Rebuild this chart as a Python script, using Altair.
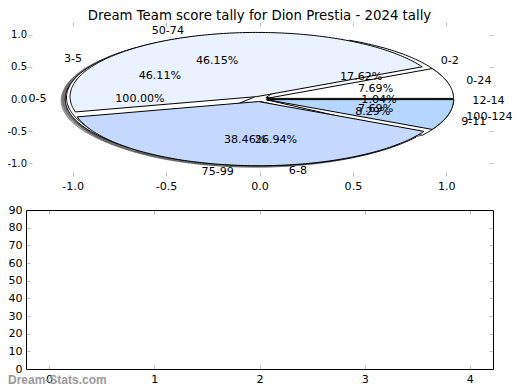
import altair as alt
import numpy as np
import pandas as pd

TITLE = "Dream Team score tally for Dion Prestia - 2024 tally"
WATERMARK = "Dream-Stats.com"

# --- data -----------------------------------------------------------------
pie1_labels = ["0-5"]
pie1_values = [100.00]
pie1_colors = ["#ffffff"]

pie2_labels = ["0-2", "3-5", "6-8", "9-11", "12-14"]
pie2_values = [17.62, 46.11, 26.94, 8.29, 1.04]
pie2_colors = ["#ffffff", "#ffffff", "#ffffff", "#ffffff", "#ffffff"]

pie3_labels = ["0-24", "50-74", "75-99", "100-124"]
pie3_values = [7.69, 46.15, 38.46, 7.69]
pie3_colors = ["#ffffff", "#eaf1ff", "#c5d9ff", "#b4d6ff"]

EXPLODE = 0.04
SHADOW_DX, SHADOW_DY = -0.022, -0.022

top_x_ticks = [-1.0, -0.5, 0.0, 0.5, 1.0]
top_y_ticks = [-1.0, -0.5, 0.0, 0.5, 1.0]
bottom_x_ticks = [0, 1, 2, 3, 4]
bottom_y_ticks = [0, 10, 20, 30, 40, 50, 60, 70, 80, 90]

# --- layout ------------------------------------------------------------------
W, H = 467, 347
TOP_X_DOM, TOP_Y_DOM = [-1.25, 1.25], [-1.2, 1.2]
BOT_X_DOM, BOT_Y_DOM = [-0.22, 4.22], [0, 90]
TOP_Y_RANGE = [154, 0]
BOT_Y_RANGE = [347, 188]
FONT = "DejaVu Sans"
TICK_COLOR = "#c0c0c0"


def sc(dom, rng):
    return alt.Scale(domain=dom, range=rng, nice=False, zero=False)


def sx_top():
    return sc(TOP_X_DOM, [0, W])


def sy_top():
    return sc(TOP_Y_DOM, TOP_Y_RANGE)


def sx_bot():
    return sc(BOT_X_DOM, [0, W])


def sy_bot():
    return sc(BOT_Y_DOM, BOT_Y_RANGE)


def pie_geometry(pid, labels, values, colors):
    total = float(sum(values))
    poly, shadow, names, pcts = [], [], [], []
    acc = 0.0
    for k, (lab, val, col) in enumerate(zip(labels, values, colors)):
        frac = val / total
        t1, t2 = 360.0 * acc, 360.0 * (acc + frac)
        acc += frac
        tm = np.deg2rad(0.5 * (t1 + t2))
        cx, cy = EXPLODE * np.cos(tm), EXPLODE * np.sin(tm)
        n = max(3, int(np.ceil(t2 - t1)) + 1)
        ts = np.deg2rad(np.linspace(t1, t2, n))
        ring = [(cx + np.cos(t), cy + np.sin(t)) for t in ts]
        pts = ring if frac > 0.9999 else [(cx, cy)] + ring + [(cx, cy)]
        wid = f"{pid}-{k:02d}"
        for i, (x, y) in enumerate(pts):
            poly.append({"wid": wid, "i": i, "x": x, "y": y, "fill": col})
            shadow.append({"wid": wid, "i": i, "x": x + SHADOW_DX, "y": y + SHADOW_DY})
        xt, yt = cx + 1.1 * np.cos(tm), cy + 1.1 * np.sin(tm)
        names.append({"text": lab, "x": xt, "y": yt, "side": "left" if xt > 0 else "right"})
        pcts.append({"text": f"{100 * frac:.2f}%", "x": cx + 0.6 * np.cos(tm), "y": cy + 0.6 * np.sin(tm)})
    return poly, shadow, names, pcts


polys, shadows, names, pcts = [], [], [], []
for pid, (l, v, c) in enumerate([(pie1_labels, pie1_values, pie1_colors),
                                 (pie2_labels, pie2_values, pie2_colors),
                                 (pie3_labels, pie3_values, pie3_colors)]):
    p, s, nm, pc = pie_geometry(pid, l, v, c)
    polys.append(pd.DataFrame(p))
    shadows += s
    names += nm
    pcts += pc

shadow_df = pd.DataFrame(shadows)
names_df = pd.DataFrame(names)
pcts_df = pd.DataFrame(pcts)


def xy_top():
    return dict(x=alt.X("x:Q", scale=sx_top(), axis=None),
                y=alt.Y("y:Q", scale=sy_top(), axis=None))


layers = []

# shadows (drawn beneath every wedge)
layers.append(
    alt.Chart(shadow_df).mark_line(filled=True, fill="#4d4d4d", fillOpacity=0.5,
                                   stroke="#4d4d4d", strokeOpacity=0.5, strokeWidth=1)
    .encode(detail="wid:N", order="i:Q", **xy_top())
)
# wedges of the three pies
for df in polys:
    layers.append(
        alt.Chart(df).mark_line(filled=True, stroke="black", strokeWidth=1, strokeJoin="miter")
        .encode(detail="wid:N", order="i:Q",
                color=alt.Color("fill:N", scale=None), **xy_top())
    )
# wedge names
for side in ["left", "right"]:
    layers.append(
        alt.Chart(names_df).transform_filter(alt.datum.side == side)
        .mark_text(align=side, baseline="middle", font=FONT, fontSize=11.1, color="black")
        .encode(text="text:N", **xy_top())
    )
# percentages
layers.append(
    alt.Chart(pcts_df).mark_text(align="center", baseline="middle", font=FONT,
                                 fontSize=11.1, color="black")
    .encode(text="text:N", **xy_top())
)

# frame of the lower panel
frame_df = pd.DataFrame({"x1": [BOT_X_DOM[0]], "x2": [BOT_X_DOM[1]],
                         "y1": [BOT_Y_DOM[0]], "y2": [BOT_Y_DOM[1]]})
layers.append(
    alt.Chart(frame_df).mark_rect(fill="transparent", stroke="black", strokeWidth=1,
                                  xOffset=0.5, x2Offset=0.5, yOffset=0.5, y2Offset=0.5)
    .encode(x=alt.X("x1:Q", scale=sx_bot(), axis=None), x2="x2:Q",
            y=alt.Y("y1:Q", scale=sy_bot(), axis=None), y2="y2:Q")
)


def axis(values, orient, offset, labels=True, padding=3, expr=None, size=11.1):
    kw = dict(values=values, orient=orient, offset=offset, domain=False, grid=False,
              ticks=True, tickColor=TICK_COLOR, tickSize=4, tickWidth=1,
              labels=labels, labelFont=FONT, labelFontSize=size, labelColor="black",
              labelPadding=padding, labelFlush=False, labelOverlap=False, title=None)
    if expr:
        kw["labelExpr"] = expr
    return alt.Axis(**kw)


minus_expr = "(datum.value < 0 ? '-' : '') + format(abs(datum.value), '.1f')"
int_expr = "format(datum.value, 'd')"

top_xt = pd.DataFrame({"v": top_x_ticks})
top_yt = pd.DataFrame({"v": top_y_ticks})
bot_xt = pd.DataFrame({"v": bottom_x_ticks})
bot_yt = pd.DataFrame({"v": bottom_y_ticks})

axis_specs = [
    (top_xt, "x", sx_top, axis(top_x_ticks, "bottom", -(H - TOP_Y_RANGE[0]) - 4, True, 4, minus_expr)),
    (top_xt, "x", sx_top, axis(top_x_ticks, "top", -4, False)),
    (top_yt, "y", sy_top, axis(top_y_ticks, "left", -6, True, 1.5, minus_expr, 10)),
    (top_yt, "y", sy_top, axis(top_y_ticks, "right", -4, False)),
    (bot_xt, "x", sx_bot, axis(bottom_x_ticks, "bottom", -4, True, 4, int_expr)),
    (bot_xt, "x", sx_bot, axis(bottom_x_ticks, "top", -BOT_Y_RANGE[1] - 4, False)),
    (bot_yt, "y", sy_bot, axis(bottom_y_ticks, "left", -4, True, 4, int_expr)),
    (bot_yt, "y", sy_bot, axis(bottom_y_ticks, "right", -4, False)),
]
for df, ch, scf, ax in axis_specs:
    enc = alt.X("v:Q", scale=scf(), axis=ax) if ch == "x" else alt.Y("v:Q", scale=scf(), axis=ax)
    layers.append(alt.Chart(df).mark_point(opacity=0).encode(**{ch: enc}))

# title
layers.append(
    alt.Chart(pd.DataFrame({"t": [TITLE]}))
    .mark_text(align="center", baseline="alphabetic", font=FONT, fontSize=13.3, color="black")
    .encode(text="t:N", x=alt.value(W / 2), y=alt.value(-2.5))
)

# watermark
layers.append(
    alt.Chart(pd.DataFrame({"t": [WATERMARK]}))
    .mark_text(align="left", baseline="alphabetic", font="Liberation Sans", fontSize=12,
               fontWeight="bold", color="#9a9a9a")
    .encode(text="t:N", x=alt.value(-18), y=alt.value(362))
)

chart = (
    alt.layer(*layers)
    .resolve_scale(x="independent", y="independent")
    .resolve_axis(x="independent", y="independent")
    .properties(
        width=W, height=H,
        autosize=alt.AutoSizeParams(type="none"),
        padding={"left": 18, "top": 14, "right": 19, "bottom": 17},
        background="white",
    )
    .configure_view(stroke=None)
)

chart.save("out.html", embed_options={"renderer": "svg", "actions": False})
